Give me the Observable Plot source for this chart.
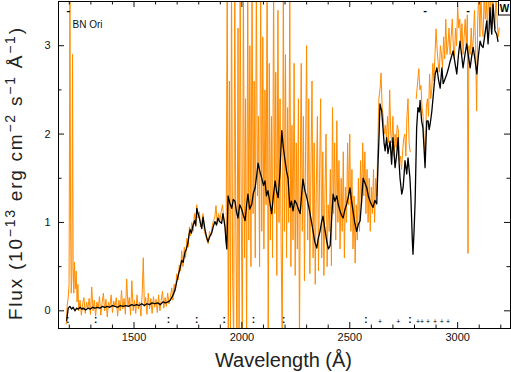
<!DOCTYPE html>
<html><head><meta charset="utf-8">
<script src="https://cdn.jsdelivr.net/npm/d3@7"></script>
<script src="https://cdn.jsdelivr.net/npm/@observablehq/plot@0.6"></script>
<style>body{margin:0;background:#fff} #chart svg{display:block}</style>
</head><body><div id="chart"></div>
<script>
// ---- smoothed spectrum (black) ----
const blackWave = [
1188,1195,1203,1211,1218,1226,1234,1242,1250,1258,
1266,1275,1287,1298,1308,1319,1330,1342,1353,1365,
1376,1388,1400,1412,1425,1437,1449,1461,1475,1489,
1500,1512,1524,1536,1548,1560,1572,1584,1597,1610,
1622,1634,1646,1658,1668,1677,1685,1692,1698,1704,
1712,1721,1728,1736,1743,1750,1755,1760,1766,1773,
1781,1786,1791,1797,1803,1809,1814,1820,1825,1829,
1836,1843,1851,1860,1867,1875,1882,1889,1896,1906,
1912,1917,1922,1926,1930,1936,1944,1953,1960,1968,
1975,1982,1990,1999,2007,2015,2022,2028,2036,2046,
2053,2061,2068,2075,2083,2092,2100,2107,2114,2121,
2130,2138,2146,2154,2161,2168,2176,2185,2192,2200,
2207,2214,2219,2223,2230,2237,2245,2254,2262,2270,
2277,2283,2292,2301,2308,2316,2323,2330,2338,2347,
2354,2362,2369,2376,2385,2393,2401,2409,2416,2423,
2431,2440,2447,2455,2462,2469,2478,2486,2494,2501,
2508,2515,2523,2532,2540,2548,2555,2562,2570,2579,
2586,2594,2601,2608,2616,2625,2631,2636,2640,2648,
2654,2659,2664,2671,2677,2682,2687,2694,2700,2705,
2710,2718,2724,2728,2733,2741,2747,2752,2756,2764,
2770,2779,2783,2787,2790,2793,2798,2803,2810,2816,
2822,2826,2833,2839,2844,2849,2853,2857,2863,2868,
2873,2880,2886,2891,2896,2904,2911,2919,2927,2933,
2941,2950,2958,2966,2972,2979,2988,2996,3004,3011,
3018,3025,3034,3042,3050,3058,3065,3072,3080,3089,
3096,3104,3111,3118,3126,3135,3141,3146,3150,3154,
3158,3164,3169,3173,3181,3187];
const blackFlux = [
-0.11,0.03,0.05,0.02,0.04,0.00,0.03,0.02,0.04,0.02,
0.03,0.01,0.03,0.02,0.04,0.03,0.04,0.03,0.05,0.04,
0.05,0.04,0.06,0.05,0.04,0.06,0.05,0.06,0.05,0.07,
0.06,0.07,0.06,0.08,0.06,0.08,0.07,0.09,0.08,0.09,
0.07,0.10,0.09,0.10,0.12,0.16,0.20,0.26,0.33,0.39,
0.47,0.57,0.55,0.66,0.70,0.77,0.86,0.92,0.88,0.96,
1.02,0.97,1.16,1.10,1.05,0.98,0.93,1.06,0.98,0.92,
0.84,0.78,0.84,0.88,0.95,1.01,0.97,1.05,1.01,0.99,
1.10,1.03,0.94,0.80,0.70,1.30,1.22,1.16,1.26,1.24,
1.12,1.05,1.20,1.15,1.08,1.02,1.20,1.32,1.15,1.21,
1.33,1.39,1.52,1.67,1.58,1.50,1.42,1.47,1.30,1.36,
1.22,1.10,1.30,1.47,1.35,1.28,1.55,2.04,1.85,1.70,
1.58,1.50,1.30,1.17,1.24,1.13,1.25,1.21,1.15,1.10,
1.32,1.49,1.36,1.28,1.20,1.10,1.00,0.90,0.78,0.71,
0.82,0.90,1.00,1.07,0.92,0.79,0.70,0.74,1.05,1.32,
1.24,1.30,1.20,1.13,1.08,1.05,1.15,1.21,1.30,1.39,
1.25,1.13,1.00,0.90,0.98,1.02,1.25,1.50,1.45,1.39,
1.30,1.24,1.20,1.17,1.25,1.21,1.66,2.00,2.34,2.26,
2.07,1.90,1.81,1.96,1.78,1.85,1.92,1.66,1.96,1.80,
1.62,1.78,1.96,1.70,1.50,1.32,1.39,1.55,1.70,1.55,
1.73,1.50,1.30,1.02,0.80,0.64,0.90,1.24,2.07,2.30,
2.25,2.38,2.15,2.07,1.85,1.62,1.90,2.15,2.15,2.05,
2.12,2.25,2.41,2.55,2.68,2.75,2.62,2.52,2.75,2.57,
2.62,2.68,2.75,2.83,2.88,2.94,2.80,2.68,2.90,3.05,
2.90,2.75,2.90,3.02,2.88,2.75,2.88,2.98,2.85,2.68,
2.88,3.05,3.00,2.98,3.12,3.28,3.02,3.20,3.43,3.25,
3.13,3.47,3.30,3.17,3.13,3.05];

// ---- observed spectrum (orange) ----
const orangeWave = [
1186,1190,1195,1199,1203,1206,1209,1212,1215,1218,
1221,1224,1228,1232,1236,1240,1244,1250,1256,1262,
1268,1274,1280,1286,1292,1298,1304,1310,1316,1322,
1328,1334,1340,1346,1352,1358,1364,1370,1376,1382,
1388,1394,1400,1406,1412,1418,1424,1430,1436,1442,
1448,1454,1460,1466,1472,1478,1484,1490,1496,1502,
1508,1514,1520,1526,1532,1538,1543,1548,1554,1560,
1566,1572,1578,1584,1590,1596,1602,1608,1614,1620,
1626,1632,1638,1644,1650,1656,1662,1668,1675,1680,
1686,1692,1698,1704,1710,1716,1721,1727,1733,1739,
1745,1751,1757,1762,1768,1774,1780,1786,1791,1797,
1803,1808,1814,1820,1826,1832,1838,1844,1850,1856,
1862,1868,1874,1880,1886,1892,1898,1904,1910,1916,
1922,1927,
1932,1937,1942,1947,1952,1957,1962,1967,1972,1977,
1982,1987,1992,1997,2002,2007,2012,2017,2022,2027,
2032,2037,2042,2047,2052,2057,2062,2067,2072,2077,
2082,2087,2092,2097,2102,2107,2112,2117,2122,2127,
2132,2137,2142,2147,2152,2157,2162,2167,2172,2177,
2182,2187,2192,2197,2202,2207,2212,2217,2222,2227,
2232,2237,2242,2247,2252,2257,2262,2267,2272,
2275,2280,2285,2290,2295,2300,2305,2310,2315,2320,
2325,2330,2335,2340,2345,2350,2355,2360,2365,2370,
2375,2380,2385,2390,2395,2400,2405,2410,2415,2420,
2425,2430,2435,2440,2445,2450,2455,2460,2465,2470,
2475,2480,2485,2490,2495,2500,2505,2510,2515,2520,
2525,2530,2535,2540,2545,2550,2555,2560,2565,2570,
2575,2580,2585,2590,2595,2600,2605,2610,2615,2620,
2625,2630,2635,
2640,2645,2650,2655,2660,2665,2670,2675,2680,2685,
2690,2695,2700,2705,2710,2715,2720,2725,2730,2735,
2740,2745,2750,2755,2760,2765,2770,2775,2780,2785,
2808,2815,2820,2825,2830,2835,2840,2845,2850,2855,
2860,2865,2870,2875,2880,2885,2890,2895,2900,2905,
2910,2915,2920,2925,2930,2935,2940,2945,2950,2955,
2960,2965,2970,2975,2980,2985,2990,2995,3000,3005,
3010,3015,3020,3025,3030,3035,3040,3045,3048,3052,
3058,3063,3068,3073,3078,3083,3088,3093,3098,3103,
3108,3113,3118,3123,3128,3133,3138,3143,3148,3153,
3158,3163,3168,3173,3178,3183,3188,3193];
const orangeFlux = [
-0.15,0.05,0.15,0.30,3.80,1.00,0.20,0.40,2.90,0.50,
0.20,0.55,0.25,0.45,0.10,0.30,0.00,0.12,-0.05,0.08,
0.15,-0.03,0.10,0.02,0.14,-0.04,0.27,0.00,0.12,-0.06,
0.10,0.03,0.16,-0.05,0.09,0.20,0.00,0.13,-0.07,0.10,
0.04,0.18,-0.02,0.11,0.05,0.15,-0.06,0.12,0.00,0.23,
0.02,0.14,-0.04,0.36,0.05,0.15,-0.05,0.34,0.00,0.12,
-0.03,0.18,0.02,0.10,-0.06,0.20,0.60,0.05,0.15,-0.04,
0.20,0.02,0.14,-0.03,0.16,0.04,0.13,-0.02,0.18,0.00,
0.12,0.22,0.03,0.15,0.05,0.20,0.08,0.15,0.26,0.12,
0.30,0.22,0.42,0.35,0.52,0.45,0.68,0.50,0.72,0.60,
0.82,0.72,0.95,0.85,1.00,0.90,1.10,0.95,1.20,1.05,
1.12,0.95,1.00,1.10,0.90,0.85,0.80,0.76,0.90,0.85,
0.95,1.02,1.05,1.19,0.98,1.10,1.02,1.12,1.20,1.05,
0.95,0.78,
3.8,-0.4,2.6,-0.4,3.8,0.4,-0.4,3.8,0.9,-0.4,
3.2,-0.4,3.8,1.2,-0.4,3.8,0.6,2.4,-0.4,3.8,
0.8,3.0,0.5,3.8,1.1,2.6,0.6,3.8,1.3,2.2,
0.5,3.8,0.9,3.1,0.7,2.5,1.2,3.8,-0.4,2.8,
0.8,2.2,0.6,3.8,1.1,2.7,0.4,3.4,1.0,2.4,
0.7,-0.4,3.8,0.9,2.9,0.6,2.3,1.0,3.6,0.5,
2.1,0.8,2.8,0.4,1.9,0.7,2.4,-0.4,2.0,
2.8,0.9,2.2,0.34,1.8,3.0,0.8,2.4,0.42,1.6,
2.6,0.6,1.9,0.3,1.4,2.2,0.45,1.5,2.4,0.6,
1.8,0.4,1.3,2.0,0.5,1.2,0.9,1.6,0.51,2.3,
1.1,1.9,0.8,2.15,1.0,1.7,0.7,1.5,0.9,1.8,
0.6,1.4,1.0,1.9,1.2,2.0,0.9,1.6,0.7,1.3,
0.54,1.2,0.8,1.5,0.9,1.7,1.2,1.9,1.3,1.8,
1.1,1.6,1.0,1.5,0.9,1.4,1.1,1.6,1.0,1.5,
1.3,1.9,2.4,
2.5,2.69,2.3,2.2,2.0,2.1,1.95,2.2,1.9,2.5,
2.0,1.9,2.2,1.75,2.0,1.85,2.1,2.05,1.7,1.75,
1.6,1.8,1.95,2.0,1.75,2.2,2.4,1.9,1.8,null,
2.4,2.6,2.74,2.5,2.55,2.3,2.2,1.9,1.7,2.3,
2.4,2.2,2.68,2.4,2.5,2.8,2.6,2.9,3.19,2.95,
2.8,2.7,3.0,2.9,2.75,3.1,2.85,3.3,2.9,3.0,
3.2,2.9,3.1,3.3,3.0,2.85,3.2,3.0,3.45,3.2,
3.3,3.0,3.25,2.9,3.1,3.3,3.0,3.35,0.65,3.0,
2.9,3.2,2.9,3.1,3.4,3.0,2.26,3.3,3.6,3.1,
3.6,3.2,3.1,3.6,3.3,3.5,3.2,3.6,3.3,3.6,
3.2,3.5,3.3,3.2,3.6,3.3,3.1,3.2];

// ---- flagged wavelengths ----
const flagBottomMain = [1193,1322,1659,1790,1918,2054,2194,2575,2779];
const flagBottomMinor = [2640,2725,2816,2835,2863,2895,2926,2955];
const flagTop = [1195,2849,3048];

// ---- axis ticks ----
const xMajor = [1500,2000,2500,3000];
const xMinor = [1200,1300,1400,1600,1700,1800,1900,2100,2200,2300,2400,2600,2700,2800,2900,3100,3200];
const yMajor = [0,1,2,3];
const yMinor = [0.5,1.5,2.5];

const black = blackWave.map((w,i)=>({w, f: blackFlux[i]}));
const orange = orangeWave.map((w,i)=>({w, f: orangeFlux[i]}));

const W = 511, H = 372, mT = 1, mB = 44, mL = 58, mR = 1;
const fh = H - mT - mB, fw = W - mL - mR;

const plot = Plot.plot({
  width: W, height: H,
  marginTop: mT, marginBottom: mB, marginLeft: mL, marginRight: mR,
  x: {domain: [1150, 3245]},
  y: {domain: [-0.2, 3.5]},
  style: {fontFamily: "'Liberation Sans', Arial, sans-serif", fontSize: "11px", color: "#111", background: "#fff", overflow: "visible"},
  marks: [
    Plot.line(orange, {x: "w", y: "f", stroke: "#ff8c00", strokeWidth: 1, clip: true}),
    Plot.line(black, {x: "w", y: "f", stroke: "#000", strokeWidth: 1.3, clip: true}),
    Plot.tickX(xMajor, {x: d => d, insetTop: fh - 6}),
    Plot.tickX(xMajor, {x: d => d, insetBottom: fh - 6}),
    Plot.tickX(xMinor, {x: d => d, insetTop: fh - 3.5}),
    Plot.tickX(xMinor, {x: d => d, insetBottom: fh - 3.5}),
    Plot.tickY(yMajor, {y: d => d, insetRight: fw - 6}),
    Plot.tickY(yMajor, {y: d => d, insetLeft: fw - 6}),
    Plot.tickY(yMinor, {y: d => d, insetRight: fw - 3.5}),
    Plot.tickY(yMinor, {y: d => d, insetLeft: fw - 3.5}),
    Plot.axisX({ticks: xMajor, tickSize: 0, tickPadding: 5, tickFormat: "d", label: null}),
    Plot.axisY({ticks: yMajor, tickSize: 0, tickPadding: 8, tickFormat: "d", label: null}),
    Plot.text(flagBottomMain, {x: d => d, text: () => ":", frameAnchor: "bottom", dy: -6, fontSize: 10, fontWeight: "bold", fill: "#000"}),
    Plot.text(flagBottomMinor, {x: d => d, text: () => "+", frameAnchor: "bottom", dy: -5, fontSize: 7, fill: "#000"}),
    Plot.text(flagTop, {x: d => d, text: () => "-", frameAnchor: "top", dy: 5, fontSize: 11, fontWeight: "bold", fill: "#000"}),
    Plot.text(["BN Ori"], {frameAnchor: "top-left", dx: 14, dy: 19, fontSize: 10, textAnchor: "start"}),
    Plot.frame({stroke: "#000"})
  ]
});

const svg = d3.select(plot);
// "W" box top-right
svg.append("rect").attr("x", 498.5).attr("y", 0.5).attr("width", 12).attr("height", 14.5)
  .attr("fill", "#fff").attr("stroke", "#000");
svg.append("text").attr("x", 504.5).attr("y", 11.5).attr("text-anchor", "middle")
  .attr("font-size", 10).attr("font-weight", "bold").attr("fill", "#000").text("W");

// axis titles
const tf = "'Liberation Sans', Arial, sans-serif";
svg.append("text").attr("x", 283.5).attr("y", 366.5).attr("text-anchor", "middle")
  .attr("font-family", tf).attr("font-size", 20).attr("fill", "#222")
  .attr("textLength", 137).attr("lengthAdjust", "spacingAndGlyphs")
  .text("Wavelength (Å)");

const yt = svg.append("text").attr("transform", "translate(22,174) rotate(-90)")
  .attr("text-anchor", "middle").attr("font-family", tf).attr("font-size", 19).attr("fill", "#222");
const parts = [["Flux (10", false], ["−13", true], [" erg cm", false], ["−2", true], [" s", false], ["−1", true], [" Å", false], ["−1", true], [")", false]];
let up = false;
for (const [t, sup] of parts) {
  const ts = yt.append("tspan").text(t);
  if (sup && !up) { ts.attr("dy", -7).attr("font-size", 14); up = true; }
  else if (sup) { ts.attr("font-size", 14); }
  else if (!sup && up) { ts.attr("dy", 7); up = false; }
}
yt.attr("textLength", 292).attr("lengthAdjust", "spacing");

document.getElementById("chart").appendChild(plot);
</script>
</body></html>
